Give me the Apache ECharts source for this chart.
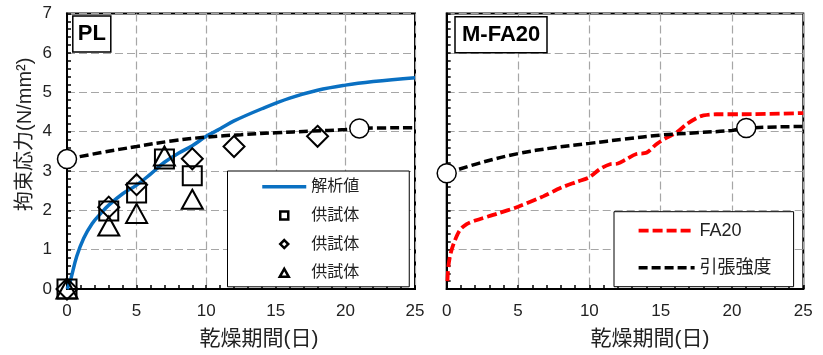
<!DOCTYPE html>
<html><head><meta charset="utf-8">
<script src="https://cdn.jsdelivr.net/npm/echarts@6/dist/echarts.min.js"></script>
<style>html,body{margin:0;padding:0;background:#fff}#c{width:823px;height:355px}</style>
</head><body><div id="c"></div>
<script>
// ---- data ----
const analysisDays   = [0,0.2,0.7,1.2,1.8,2.4,3,4,5,6,7,8,9,10,11,12,14,16,18,20,22,25];
const analysisStress = [0,0.16,0.83,1.29,1.66,1.91,2.13,2.42,2.64,2.92,3.22,3.45,3.64,3.88,4.07,4.27,4.58,4.85,5.05,5.18,5.27,5.37];

const tensileLDays   = [0,2.5,5,7.5,10,12.5,15,17.5,20,21,25];
const tensileLStress = [3.3,3.47,3.62,3.76,3.86,3.92,3.97,4.01,4.05,4.08,4.1];
const tensileLPtDays = [0,21];
const tensileLPt     = [3.3,4.08];

const spec1Days = [0,3,5,7,9];
const spec1     = [0,1.98,2.44,3.3,2.88];
const spec2Days = [0,3,5,9,12,18];
const spec2     = [0,2.08,2.65,3.31,3.62,3.88];
const spec3Days = [0,3,5,7,9];
const spec3     = [0,1.6,1.92,3.38,2.28];

const fa20Days   = [0.05,0.12,0.28,0.58,0.93,1.4,2,3.5,5,6.8,8,9.1,10,10.75,11.45,12,12.6,13.3,14,14.7,15.4,16.1,16.8,17.5,18,18.9,20.8,25];
const fa20Stress = [0.2,0.58,0.91,1.24,1.5,1.65,1.74,1.91,2.09,2.36,2.57,2.72,2.84,3.05,3.17,3.19,3.3,3.43,3.46,3.68,3.84,3.97,4.18,4.34,4.41,4.44,4.44,4.47];

const tensileRDays   = [0,2.5,5,7.5,10,12.5,15,17.5,20,21,25];
const tensileRStress = [2.94,3.22,3.44,3.59,3.70,3.81,3.91,3.97,4.03,4.09,4.13];
const tensileRPtDays = [0,21];
const tensileRPt     = [2.94,4.09];

const panelLabels = ['PL','M-FA20'];
const xName = '乾燥期間(日)';
const yName = '拘束応力(N/mm²)';
const legendL = ['解析値','供試体1','供試体2','供試体3'];
const legendR = ['FA20','引張強度'];

const zip = (a,b) => a.map((v,i)=>[v,b[i]]);
const FONT = '"Liberation Sans", "Noto Sans CJK JP", sans-serif';

function xAxis(idx, padLeft){
  return {
    gridIndex: idx, type:'value', min:0, max:25, interval:5,
    name: xName, nameLocation:'middle', nameGap:40,
    nameTextStyle:{fontSize:21, color:'#222', padding:[0,0,0,padLeft]},
    axisLine:{onZero:false, lineStyle:{color:'#000', width:2}},
    axisTick:{inside:true, length:4, lineStyle:{color:'#000', width:1.5}},
    minorTick:{show:true, splitNumber:5, length:4, lineStyle:{color:'#000', width:1.5}},
    axisLabel:{fontSize:17, color:'#222', margin:14},
    splitLine:{show:true, lineStyle:{color:'#a6a6a6', width:1.2, type:[8,4]}}
  };
}
function yAxis(idx, showLabel){
  return {
    gridIndex: idx, type:'value', min:0, max:7, interval:1,
    name: showLabel ? yName : '', nameLocation:'middle', nameGap:32,
    nameTextStyle:{fontSize:20, color:'#222', padding:[0,0,0,34]},
    axisLine:{onZero:false, lineStyle:{color:'#000', width:2}},
    axisTick:{inside:true, length:4, lineStyle:{color:'#000', width:1.5}},
    minorTick:{show:true, splitNumber:5, length:4, lineStyle:{color:'#000', width:1.5}},
    axisLabel:{show:showLabel, fontSize:17, color:'#222', margin:15},
    splitLine:{show:true, lineStyle:{color:'#a6a6a6', width:1.2, type:[8,4]}}
  };
}

const markerStyle = {color:'rgba(255,255,255,0)', borderColor:'#000', borderWidth:2, opacity:1};
const circleStyle = {color:'#fff', borderColor:'#000', borderWidth:1.5, opacity:1};
const legendMarker = {color:'#fff', borderColor:'#000', borderWidth:2.5, opacity:1};
const iconSquare   = 'path://M0,0L8,0L8,8L0,8Z';
const iconDiamond  = 'path://M4.5,0L9,4.5L4.5,9L0,4.5Z';
const iconTriangle = 'path://M4.5,0L9,8L0,8Z';

const option = {
  animation:false,
  backgroundColor:'#fff',
  textStyle:{fontFamily:FONT},
  title:[
    {text:panelLabels[0], left:72.3, top:16, padding:[7,5.5,7,5.5], borderColor:'#000', borderWidth:1.5, backgroundColor:'#fff',
     textStyle:{fontSize:22, fontWeight:'bold', color:'#000', fontFamily:FONT}},
    {text:panelLabels[1], left:455, top:16.7, padding:[7,7,7,7], borderColor:'#000', borderWidth:1.5, backgroundColor:'#fff',
     textStyle:{fontSize:22, fontWeight:'bold', color:'#000', fontFamily:FONT}}
  ],
  grid:[
    {left:67, top:13.5, width:348, height:279.5, show:true, borderColor:'#000', borderWidth:2, backgroundColor:'transparent'},
    {left:446.7, top:13.5, width:356.6, height:279.5, show:true, borderColor:'#000', borderWidth:2, backgroundColor:'transparent'}
  ],
  xAxis:[xAxis(0,36), xAxis(1,50)],
  yAxis:[yAxis(0,true), yAxis(1,false)],
  legend:[
    {data:[
       {name:legendL[0], itemStyle:{opacity:0}, lineStyle:{width:3.5}},
       {name:legendL[1], icon:iconSquare, itemStyle:legendMarker},
       {name:legendL[2], icon:iconDiamond, itemStyle:legendMarker},
       {name:legendL[3], icon:iconTriangle, itemStyle:legendMarker}],
     orient:'vertical', left:227.5, top:171, padding:[5.7,50,4,33], symbolKeepAspect:true,
     itemWidth:44, itemHeight:8, itemGap:8.7, borderColor:'#000', borderWidth:1, backgroundColor:'#fff',
     formatter: n => n.replace(/\d$/,''), textStyle:{fontSize:16, color:'#222', lineHeight:20}, selectedMode:false},
    {data:[
       {name:legendR[0], itemStyle:{opacity:0}, lineStyle:{width:3.8}},
       {name:legendR[1], itemStyle:{opacity:0}, lineStyle:{width:3.5}}],
     orient:'vertical', left:614, top:211.7, padding:[9,22,9,22.7],
     itemWidth:56, itemHeight:8, itemGap:17, borderColor:'#000', borderWidth:1, backgroundColor:'#fff',
     textStyle:{fontSize:18, color:'#222', lineHeight:20}, selectedMode:false}
  ],
  series:[
    {name:'解析値', type:'line', xAxisIndex:0, yAxisIndex:0, data:zip(analysisDays,analysisStress),
     smooth:0.4, symbol:'none', lineStyle:{color:'#0A70C2', width:3.5}, itemStyle:{color:'#0A70C2'}, z:3},
    {name:'引張強度', type:'line', xAxisIndex:0, yAxisIndex:0, data:zip(tensileLDays,tensileLStress),
     smooth:0.4, symbol:'none', lineStyle:{color:'#000', width:3.5, type:[9,4]}, itemStyle:{color:'#000'}, z:3},
    {name:'引張強度点L', type:'scatter', xAxisIndex:0, yAxisIndex:0, data:zip(tensileLPtDays,tensileLPt),
     symbol:'circle', symbolSize:19, itemStyle:circleStyle, clip:false, z:6},
    {name:'供試体1', type:'scatter', xAxisIndex:0, yAxisIndex:0, data:zip(spec1Days,spec1),
     symbol:'rect', symbolSize:19, itemStyle:markerStyle, clip:false, z:5},
    {name:'供試体2', type:'scatter', xAxisIndex:0, yAxisIndex:0, data:zip(spec2Days,spec2),
     symbol:'diamond', symbolSize:21, itemStyle:markerStyle, clip:false, z:5},
    {name:'供試体3', type:'scatter', xAxisIndex:0, yAxisIndex:0, data:zip(spec3Days,spec3),
     symbol:'triangle', symbolSize:[21,19], itemStyle:markerStyle, clip:false, z:5},

    {name:'FA20', type:'line', xAxisIndex:1, yAxisIndex:1, data:zip(fa20Days,fa20Stress),
     smooth:0.3, symbol:'none', lineStyle:{color:'#ff0000', width:3.8, type:[10,4]}, itemStyle:{color:'#ff0000'}, z:3},
    {name:'引張強度', type:'line', xAxisIndex:1, yAxisIndex:1, data:zip(tensileRDays,tensileRStress),
     smooth:0.4, symbol:'none', lineStyle:{color:'#000', width:3.5, type:[9,4]}, itemStyle:{color:'#000'}, z:3},
    {name:'引張強度点R', type:'scatter', xAxisIndex:1, yAxisIndex:1, data:zip(tensileRPtDays,tensileRPt),
     symbol:'circle', symbolSize:19, itemStyle:circleStyle, clip:false, z:6}
  ]
};
const chart = echarts.init(document.getElementById('c'), null, {renderer:'canvas'});
chart.setOption(option);
</script>
</body></html>
